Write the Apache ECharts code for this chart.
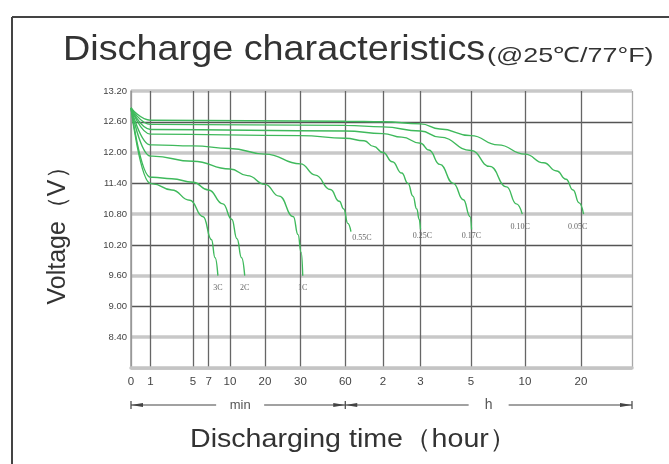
<!DOCTYPE html>
<html><head><meta charset="utf-8">
<script src="https://cdn.jsdelivr.net/npm/echarts@6/dist/echarts.min.js"></script>
<style>html,body{margin:0;padding:0;background:#fff}#c{width:669px;height:464px}</style>
</head><body><div id="c"></div>
<script>
// ---- x axis: printed (non-linear) time scale, time in minutes ----
const tickTimes  = [0, 1, 5, 7, 10, 20, 30, 60, 120, 180, 300, 600, 1200];
const tickLabels = ['0','1','5','7','10','20','30','60','2','3','5','10','20'];
const axisEndTime = 2400;
// ---- y axis ----
const yMin = 7.8, yMax = 13.2, yStep = 0.6;
// ---- discharge curves: [time (min), voltage (V)] ----
const rateNames = ['3C','2C','1C','0.55C','0.25C','0.17C','0.10C','0.05C'];
const c3C   = [[0,12.87],[1,11.4],[1.2,11.39],[3,11.27],[4.7,11.07],[6.3,10.75],[7.4,10.3],[7.9,9.95],[8.3,9.6]];
const c2C   = [[0,12.87],[1,11.52],[1.2,11.52],[3,11.49],[5,11.42],[7,11.27],[9,11.0],[10.5,10.7],[12,10.32],[13.3,9.95],[14.2,9.6]];
const c1C   = [[0,12.87],[1,11.93],[1.2,11.93],[5,11.83],[10,11.68],[15,11.55],[20,11.38],[24,11.15],[28,10.75],[29.3,10.4],[30.5,10.05],[31.5,9.6]];
const c055C = [[0,12.87],[1,12.15],[1.2,12.15],[5,12.13],[10,12.08],[20,11.97],[30,11.78],[40,11.56],[50,11.28],[56,11.05],[59,10.9],[64,10.62],[69,10.46]];
const c025C = [[0,12.87],[1,12.36],[1.2,12.36],[30,12.33],[60,12.28],[90,12.23],[105,12.12],[120,12.0],[135,11.82],[150,11.6],[160,11.4],[168,11.15],[174,10.9],[178,10.7],[180,10.5]];
const c017C = [[0,12.87],[1,12.45],[1.2,12.45],[60,12.42],[120,12.37],[150,12.3],[180,12.18],[200,12.05],[226,11.77],[258,11.4],[282,11.08],[298,10.75],[303,10.5]];
const c010C = [[0,12.87],[1,12.55],[1.2,12.55],[60,12.53],[120,12.5],[180,12.42],[226,12.3],[300,12.04],[405,11.73],[498,11.33],[552,11.0],[585,10.8]];
const c005C = [[0,12.87],[1,12.63],[1.2,12.63],[60,12.61],[120,12.6],[180,12.56],[226,12.46],[300,12.33],[450,12.15],[600,11.97],[800,11.8],[940,11.64],[1040,11.48],[1115,11.27],[1180,11.02],[1260,10.8]];
const curves = [c3C, c2C, c1C, c055C, c025C, c017C, c010C, c005C];

// scale definition of the printed axis: where each tick sits along the axis (0..100)
const scaleStops = [0, 3.89, 12.38, 15.5, 19.76, 26.75, 33.83, 42.77, 50.3, 57.78, 67.86, 78.64, 89.82, 100];
const scaleTimes = tickTimes.concat([axisEndTime]);
function timeToPos(t) {
  for (let i = 0; i < scaleTimes.length - 1; i++) {
    if (t <= scaleTimes[i + 1]) {
      const f = (t - scaleTimes[i]) / (scaleTimes[i + 1] - scaleTimes[i]);
      return scaleStops[i] + f * (scaleStops[i + 1] - scaleStops[i]);
    }
  }
  return 100;
}
const tickPos = tickTimes.map(timeToPos);

const labelDist = [8, 8, 8, 2, 2, 2, 9, 9];
const labelOffset = [[0,0],[0,0],[0,0],[11,0],[2,0],[0,0],[-2,0],[-6,0]];

const chart = echarts.init(document.getElementById('c'), null, {renderer: 'canvas'});
const series = curves.map((c, i) => {
  const pts = c.map(p => [timeToPos(p[0]), p[1]]);
  return {
    type: 'line', name: rateNames[i], data: pts, showSymbol: false, smooth: 0.5, smoothMonotone: 'x',
    lineStyle: {color: '#3fb95c', width: 1.4}, itemStyle: {color: '#3fb95c'}, silent: true, z: 5,
    markPoint: {
      symbol: 'circle', symbolSize: 0, silent: true, animation: false,
      data: [{coord: pts[pts.length - 1],
        label: {show: true, formatter: rateNames[i], position: 'bottom', distance: labelDist[i], offset: labelOffset[i],
          fontSize: 8, color: '#666', fontFamily: 'Liberation Serif'}}]
    }
  };
});

const vColors = tickPos.map((p, k) => k === 0 ? '#999' : '#666').concat(['#a8a8a8']);

chart.setOption({
  animation: false,
  grid: {left: 131, right: 37, top: 91, bottom: 96, containLabel: false},
  xAxis: {
    type: 'value', min: 0, max: 100,
    axisLine: {show: true, lineStyle: {color: '#c4c4c4', width: 3.5}},
    axisTick: {show: false, customValues: tickPos.concat([100])},
    axisLabel: {customValues: tickPos, margin: 8, fontSize: 11.5, color: '#444', fontFamily: 'Liberation Sans',
      formatter: v => { const k = tickPos.findIndex(p => Math.abs(p - v) < 1e-6); return k >= 0 ? tickLabels[k] : ''; }},
    splitLine: {show: true, lineStyle: {color: vColors, width: 1.3}}
  },
  yAxis: [{
    type: 'value', min: yMin, max: yMax, interval: yStep,
    name: 'Voltage（V）', nameLocation: 'middle', nameGap: 60, nameRotate: 90,
    nameTextStyle: {fontSize: 25, color: '#333', fontFamily: 'Liberation Sans'},
    axisLine: {show: true, lineStyle: {color: '#999', width: 1.5}},
    axisTick: {show: false},
    axisLabel: {margin: 4, fontSize: 9.5, color: '#444', fontFamily: 'Liberation Sans',
      formatter: v => v < yMin + 0.01 ? '' : v.toFixed(2)},
    splitLine: {show: true, showMinLine: true, showMaxLine: true, lineStyle: {color: ['#555', 'rgba(0,0,0,0)'], width: 1.3}}
  }, {
    type: 'value', min: yMin, max: yMax, interval: yStep, position: 'left',
    axisLine: {show: false}, axisTick: {show: false}, axisLabel: {show: false},
    splitLine: {show: true, showMinLine: true, showMaxLine: true, lineStyle: {color: ['rgba(0,0,0,0)', '#c8c8c8'], width: 3.5}}
  }],
  series: series
});

// decorations: frame, title, time-unit arrows
const yBase = chart.convertToPixel({xAxisIndex: 0, yAxisIndex: 0}, [0, yMin])[1];
const xAt = t => chart.convertToPixel({xAxisIndex: 0, yAxisIndex: 0}, [timeToPos(t), yMin])[0];
const x0 = xAt(0), x60 = xAt(60), xEnd = chart.convertToPixel({xAxisIndex: 0, yAxisIndex: 0}, [100, yMin])[0];
const ay = yBase + 37;
const m1 = (x0 + x60) / 2 + 2, m2 = (x60 + xEnd) / 2;
const ink = '#444';
const seg = (a, b) => ({type: 'line', shape: {x1: a, y1: ay, x2: b, y2: ay}, style: {stroke: ink, lineWidth: 1.2}});
const tri = (tip, dir) => ({type: 'polygon', shape: {points: [[tip, ay], [tip - dir * 12, ay - 2], [tip - dir * 12, ay + 2]]}, style: {fill: ink}});
const bar = x => ({type: 'line', shape: {x1: x, y1: ay - 4, x2: x, y2: ay + 4}, style: {stroke: ink, lineWidth: 1.2}});

chart.setOption({
  graphic: [
    {type: 'line', shape: {x1: 12, y1: 17, x2: 669, y2: 17}, style: {stroke: '#444', lineWidth: 2}},
    {type: 'line', shape: {x1: 12, y1: 17, x2: 12, y2: 464}, style: {stroke: '#444', lineWidth: 2}},
    {type: 'text', x: 63, y: 50, scaleX: 1.08, style: {text: 'Discharge characteristics', fontSize: 35, fontFamily: 'Liberation Sans', fill: '#333', align: 'left', verticalAlign: 'middle'}},
    {type: 'text', x: 487, y: 56, scaleX: 1.28, style: {text: '(@25℃/77°F)', fontSize: 21, fontFamily: 'Liberation Sans', fill: '#333', align: 'left', verticalAlign: 'middle'}},
    {type: 'text', x: 190, y: 440, scaleX: 1.1, style: {text: 'Discharging time（hour）', fontSize: 26, fontFamily: 'Liberation Sans', fill: '#333', align: 'left', verticalAlign: 'middle'}},
    seg(x0, m1 - 24), seg(m1 + 24, x60), seg(x60, m2 - 20), seg(m2 + 20, xEnd),
    tri(x0, -1), tri(x60, 1), tri(x60, -1), tri(xEnd, 1),
    bar(x0), bar(x60), bar(xEnd),
    {type: 'text', x: m1, y: ay, style: {text: 'min', fontSize: 13, fontFamily: 'Liberation Sans', fill: '#555', align: 'center', verticalAlign: 'middle'}},
    {type: 'text', x: m2, y: ay, style: {text: 'h', fontSize: 14, fontFamily: 'Liberation Sans', fill: '#555', align: 'center', verticalAlign: 'middle'}}
  ]
});
</script>
</body></html>
